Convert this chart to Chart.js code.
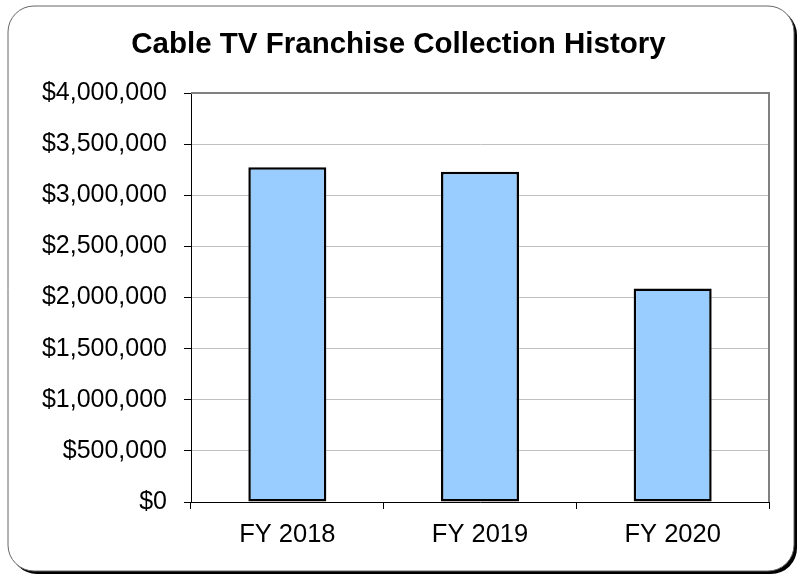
<!DOCTYPE html>
<html>
<head>
<meta charset="utf-8">
<script src="https://cdn.jsdelivr.net/npm/chart.js@4"></script>
<style>
html,body{margin:0;padding:0;background:#fff;}
#wrap{width:801px;height:577px;position:relative;}
</style>
</head>
<body>
<div id="wrap"><canvas id="c" width="801" height="577"></canvas></div>
<script>
const categories = ["FY 2018", "FY 2019", "FY 2020"];
const collections = [3275000, 3230000, 2087000];
const yTickValues = [0, 500000, 1000000, 1500000, 2000000, 2500000, 3000000, 3500000, 4000000];
const titleText = "Cable TV Franchise Collection History";

function fmtDollar(v){ return "$" + Math.round(v).toLocaleString("en-US"); }

const framePlugin = {
  id: "frame",
  beforeDraw(chart){
    const ctx = chart.ctx;
    ctx.save();
    ctx.fillStyle = "#fff";
    ctx.fillRect(0,0,chart.width,chart.height);
    function rr(x,y,w,h,r){
      ctx.beginPath();
      ctx.moveTo(x+r,y);
      ctx.lineTo(x+w-r,y);
      ctx.arcTo(x+w,y,x+w,y+r,r);
      ctx.lineTo(x+w,y+h-r);
      ctx.arcTo(x+w,y+h,x+w-r,y+h,r);
      ctx.lineTo(x+r,y+h);
      ctx.arcTo(x,y+h,x,y+h-r,r);
      ctx.lineTo(x,y+r);
      ctx.arcTo(x,y,x+r,y,r);
      ctx.closePath();
    }
    rr(11,9,786,565,26);
    ctx.fillStyle = "#000";
    ctx.fill();
    rr(8,6,786,565,26);
    ctx.fillStyle = "#fff";
    ctx.fill();
    ctx.lineWidth = 1;
    ctx.strokeStyle = "#666";
    ctx.stroke();
    ctx.restore();
  },
  afterDatasetsDraw(chart){
    const a = chart.chartArea;
    const ctx = chart.ctx;
    ctx.save();
    ctx.strokeStyle = "#808080";
    ctx.lineWidth = 2;
    ctx.beginPath();
    ctx.moveTo(a.left, a.top);
    ctx.lineTo(a.right, a.top);
    ctx.lineTo(a.right, a.bottom);
    ctx.stroke();
    ctx.restore();
  }
};

new Chart(document.getElementById("c"), {
  type: "bar",
  data: {
    labels: categories,
    datasets: [{
      data: collections,
      backgroundColor: "#99CCFF",
      borderColor: "#000",
      borderWidth: 2.5,
      borderSkipped: false,
      categoryPercentage: 1,
      barPercentage: 0.405
    }]
  },
  options: {
    responsive: false,
    animation: false,
    devicePixelRatio: 1,
    layout: { padding: { left: 28, right: 32, top: 0, bottom: 25 } },
    plugins: {
      legend: { display: false },
      tooltip: { enabled: false },
      title: {
        display: true,
        text: titleText,
        color: "#000",
        font: { family: "'Liberation Sans', Arial, sans-serif", size: 29.5, weight: "bold", lineHeight: 1.2 },
        padding: { top: 27, bottom: 30.6 }
      }
    },
    scales: {
      x: {
        afterFit(s){ s.height = 50; },
        grid: { display: true, drawOnChartArea: false, drawTicks: true, tickLength: 7, tickColor: "#000", offset: true },
        border: { display: true, color: "#000", width: 1 },
        ticks: { color: "#000", padding: 11, font: { family: "'Liberation Sans', Arial, sans-serif", size: 25.5 } }
      },
      y: {
        min: 0, max: 4000000,
        afterFit(s){ s.width = 163; },
        afterBuildTicks(s){ s.ticks = yTickValues.map(v => ({ value: v })); },
        grid: { color: "#c0c0c0", lineWidth: 1, drawTicks: true, tickLength: 7, tickColor: "#000" },
        border: { display: true, color: "#000", width: 1 },
        ticks: {
          color: "#000",
          padding: 17,
          font: { family: "'Liberation Sans', Arial, sans-serif", size: 25 },
          callback: (v) => fmtDollar(v)
        }
      }
    }
  },
  plugins: [framePlugin]
});
</script>
</body>
</html>
